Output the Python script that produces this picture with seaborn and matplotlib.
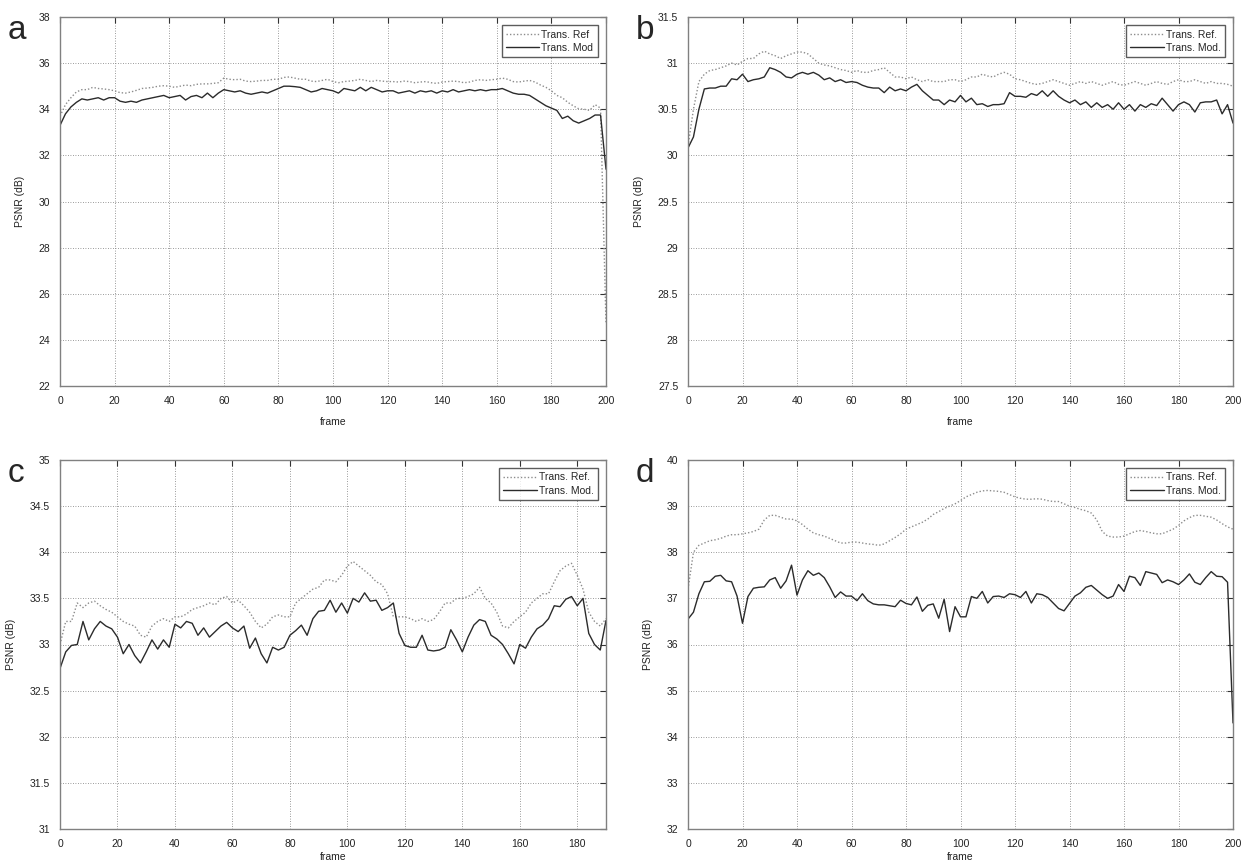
import numpy as np
import pandas as pd
import matplotlib.pyplot as plt
import seaborn as sns

# frame index for each panel (every 2nd frame)
frames_200 = list(range(0, 201, 2))
frames_190 = list(range(0, 191, 2))

# panel a
ref_a = [33.7, 34.2, 34.5, 34.75, 34.85, 34.85, 34.95, 34.9, 34.88, 34.85,
         34.8, 34.72, 34.7, 34.75, 34.82, 34.9, 34.92, 34.95, 35.0, 35.02,
         35.0, 34.95, 35.0, 35.05, 35.02, 35.08, 35.1, 35.1, 35.12, 35.15,
         35.35, 35.3, 35.28, 35.3, 35.22, 35.2, 35.22, 35.25, 35.25, 35.3,
         35.3, 35.38, 35.4, 35.35, 35.3, 35.3, 35.22, 35.2, 35.25, 35.3,
         35.2, 35.15, 35.2, 35.22, 35.25, 35.3, 35.25, 35.2, 35.25, 35.22,
         35.2, 35.2, 35.18, 35.22, 35.2, 35.15, 35.18, 35.2, 35.15, 35.12,
         35.18, 35.2, 35.22, 35.2, 35.15, 35.18, 35.25, 35.28, 35.25, 35.28,
         35.3, 35.35, 35.3, 35.2, 35.18, 35.22, 35.25, 35.18, 35.05, 34.95,
         34.8, 34.6, 34.5, 34.3, 34.15, 34.02, 34.0, 33.95, 34.2, 34.05,
         24.7]
mod_a = [33.3, 33.8, 34.1, 34.3, 34.45, 34.4, 34.45, 34.5, 34.4, 34.5,
         34.5, 34.35, 34.3, 34.35, 34.3, 34.4, 34.45, 34.5, 34.55, 34.6,
         34.5, 34.55, 34.6, 34.4, 34.55, 34.6, 34.5, 34.7, 34.5, 34.7,
         34.85, 34.8, 34.75, 34.8, 34.7, 34.65, 34.7, 34.75, 34.7, 34.8,
         34.9, 35.0, 35.0, 34.98, 34.95, 34.85, 34.75, 34.8, 34.9, 34.85,
         34.8, 34.7, 34.9, 34.85, 34.8, 34.95, 34.8, 34.95, 34.85, 34.75,
         34.8, 34.8, 34.7, 34.75, 34.8, 34.7, 34.8, 34.75, 34.8, 34.7,
         34.8, 34.75, 34.85, 34.75, 34.8, 34.85, 34.8, 34.85, 34.8, 34.85,
         34.85, 34.9, 34.8, 34.7, 34.65, 34.65, 34.6, 34.45, 34.3, 34.15,
         34.05, 33.95, 33.6, 33.7, 33.5, 33.4, 33.5, 33.6, 33.75, 33.75,
         31.4]

# panel b
ref_b = [30.1, 30.5, 30.8, 30.88, 30.92, 30.93, 30.95, 30.97, 31.0, 30.98,
         31.02, 31.05, 31.05, 31.1, 31.13, 31.1, 31.08, 31.05, 31.08, 31.1,
         31.12, 31.12, 31.1, 31.05, 31.0, 30.98, 30.97, 30.95, 30.93, 30.92,
         30.9, 30.92, 30.9, 30.9, 30.92, 30.93, 30.95, 30.9, 30.85, 30.85,
         30.83, 30.85, 30.82, 30.8, 30.82, 30.8, 30.8, 30.8, 30.82, 30.82,
         30.8, 30.82, 30.85, 30.85, 30.88, 30.86, 30.85, 30.88, 30.9, 30.88,
         30.83, 30.82, 30.8, 30.78, 30.77, 30.78, 30.8, 30.82, 30.8, 30.78,
         30.76, 30.78, 30.8, 30.78, 30.8, 30.78, 30.76, 30.78, 30.8, 30.77,
         30.76, 30.78, 30.8, 30.78, 30.76, 30.78, 30.8, 30.78, 30.77, 30.8,
         30.82, 30.8, 30.8, 30.82, 30.8, 30.78, 30.8, 30.78, 30.78, 30.77,
         30.75]
mod_b = [30.08, 30.2, 30.5, 30.72, 30.73, 30.73, 30.75, 30.75, 30.83, 30.82,
         30.88, 30.8, 30.82, 30.83, 30.85, 30.95, 30.93, 30.9, 30.85, 30.84,
         30.88, 30.9, 30.88, 30.9, 30.87, 30.82, 30.84, 30.8, 30.82, 30.79,
         30.8, 30.79, 30.76, 30.74, 30.73, 30.73, 30.68, 30.74, 30.7, 30.72,
         30.7, 30.74, 30.77, 30.7, 30.65, 30.6, 30.6, 30.55, 30.6, 30.58,
         30.65, 30.58, 30.62, 30.55, 30.56, 30.53, 30.55, 30.55, 30.56, 30.68,
         30.64, 30.64, 30.63, 30.67, 30.65, 30.7, 30.64, 30.7, 30.64, 30.6,
         30.57, 30.6, 30.55, 30.58, 30.52, 30.57, 30.52, 30.55, 30.5, 30.57,
         30.5, 30.55, 30.48, 30.55, 30.52, 30.56, 30.54, 30.62, 30.55, 30.48,
         30.55, 30.58, 30.55, 30.47, 30.57, 30.58, 30.58, 30.6, 30.45, 30.55,
         30.35]

# panel c (only 190 frames)
ref_c = [33.0, 33.25, 33.25, 33.45, 33.4, 33.45, 33.47, 33.42, 33.38, 33.35,
         33.3, 33.25, 33.22, 33.2, 33.1, 33.08, 33.2, 33.25, 33.28, 33.25,
         33.3, 33.3, 33.33, 33.38, 33.4, 33.42, 33.45, 33.43, 33.5, 33.52,
         33.45, 33.48, 33.42, 33.35, 33.25, 33.18, 33.22, 33.3, 33.32, 33.3,
         33.3, 33.45, 33.5, 33.55, 33.6, 33.62, 33.7, 33.7, 33.68, 33.75,
         33.85, 33.9, 33.85, 33.8, 33.75, 33.68, 33.65, 33.55, 33.3, 33.3,
         33.3, 33.28, 33.25, 33.28, 33.25, 33.27, 33.35, 33.45, 33.45, 33.5,
         33.5, 33.52, 33.55, 33.62, 33.5, 33.45, 33.35, 33.2, 33.18, 33.25,
         33.3, 33.35, 33.45, 33.5, 33.55, 33.55, 33.68, 33.8, 33.85, 33.88,
         33.75, 33.6, 33.35, 33.25, 33.2, 33.28]
mod_c = [32.74, 32.92, 32.99, 33.0, 33.25, 33.05, 33.17, 33.25, 33.2, 33.17,
         33.08, 32.9, 33.0, 32.88, 32.8, 32.92, 33.05, 32.95, 33.05, 32.97,
         33.22, 33.18, 33.25, 33.23, 33.1, 33.18, 33.08, 33.14, 33.2, 33.24,
         33.18, 33.14, 33.2, 32.96, 33.07, 32.9, 32.8, 32.97, 32.94, 32.97,
         33.1, 33.15, 33.21, 33.1, 33.28, 33.36, 33.37, 33.48, 33.35, 33.45,
         33.34, 33.5, 33.46, 33.56, 33.47, 33.48, 33.37, 33.4, 33.45, 33.12,
         32.99, 32.97, 32.97, 33.1, 32.94, 32.93, 32.94, 32.97, 33.16, 33.05,
         32.92, 33.08, 33.21, 33.27, 33.25, 33.1, 33.06, 33.0, 32.9, 32.79,
         33.0, 32.96, 33.08, 33.17, 33.21, 33.28, 33.42, 33.41, 33.49, 33.52,
         33.42, 33.5, 33.12, 33.0, 32.94, 33.26]

# panel d
ref_d = [37.2, 38.0, 38.15, 38.2, 38.25, 38.27, 38.3, 38.35, 38.38, 38.38,
         38.4, 38.42, 38.45, 38.5, 38.7, 38.8, 38.8, 38.76, 38.72, 38.72,
         38.68, 38.6, 38.5, 38.42, 38.38, 38.35, 38.3, 38.25, 38.2, 38.2,
         38.22, 38.22, 38.2, 38.18, 38.17, 38.15, 38.18, 38.25, 38.32, 38.4,
         38.5, 38.55, 38.6, 38.65, 38.72, 38.82, 38.88, 38.95, 39.0, 39.05,
         39.12, 39.2, 39.25, 39.3, 39.33, 39.34, 39.33, 39.32, 39.3, 39.25,
         39.2, 39.17, 39.15, 39.15, 39.16, 39.15, 39.12, 39.1, 39.1, 39.05,
         39.0, 38.97, 38.93, 38.9, 38.85, 38.7, 38.45, 38.35, 38.33, 38.33,
         38.35, 38.4, 38.45, 38.47, 38.45, 38.42, 38.4, 38.4, 38.45, 38.5,
         38.58, 38.68, 38.75, 38.8, 38.8, 38.78, 38.76, 38.7, 38.62, 38.55,
         38.5]
mod_d = [36.55, 36.7, 37.1, 37.36, 37.37, 37.48, 37.5, 37.38, 37.36, 37.05,
         36.46, 37.04, 37.22, 37.24, 37.25, 37.4, 37.45, 37.22, 37.38, 37.72,
         37.07, 37.4, 37.6, 37.5, 37.55, 37.45, 37.25, 37.02, 37.14, 37.05,
         37.05, 36.95, 37.1, 36.95, 36.88, 36.86, 36.86, 36.84, 36.82, 36.96,
         36.89, 36.86, 37.03, 36.72, 36.85, 36.88, 36.57, 36.98, 36.28, 36.82,
         36.6, 36.6, 37.04, 37.0, 37.15, 36.9, 37.04, 37.05, 37.02, 37.1,
         37.08, 37.02, 37.15, 36.9, 37.1, 37.08, 37.02, 36.9, 36.78, 36.73,
         36.89, 37.05, 37.12, 37.24, 37.28, 37.18, 37.08, 37.0, 37.05, 37.3,
         37.15, 37.48, 37.45, 37.28, 37.58, 37.55, 37.52, 37.34, 37.4, 37.36,
         37.3, 37.4, 37.53, 37.35, 37.3, 37.45, 37.58, 37.48, 37.47, 37.35,
         34.3]

panels = [
    ("a", frames_200, ref_a, mod_a, (22, 38), 2, 200, ("Trans. Ref", "Trans. Mod")),
    ("b", frames_200, ref_b, mod_b, (27.5, 31.5), 0.5, 200, ("Trans. Ref.", "Trans. Mod.")),
    ("c", frames_190, ref_c, mod_c, (31, 35), 0.5, 190, ("Trans. Ref.", "Trans. Mod.")),
    ("d", frames_200, ref_d, mod_d, (32, 40), 1, 200, ("Trans. Ref.", "Trans. Mod.")),
]

# axes rectangles in figure fractions (left, bottom, width, height)
W, H = 1251, 865
rects = [
    (60 / W, 1 - 386 / H, 546 / W, 369 / H),
    (688 / W, 1 - 386 / H, 545 / W, 369 / H),
    (60 / W, 1 - 829 / H, 546 / W, 369 / H),
    (688 / W, 1 - 829 / H, 545 / W, 369 / H),
]
# the bottom row has less room for the x label
xlabel_pads = [8, 8, 2, 2]

sns.set_style("white")
plt.rcParams["font.family"] = ["Liberation Sans Narrow", "Liberation Sans", "DejaVu Sans"]

fig = plt.figure(figsize=(12.51, 8.65), dpi=100)

for (letter, frames, ref, mod, ylim, ystep, xmax, labels), rect, xpad in zip(panels, rects, xlabel_pads):
    ax = fig.add_axes(rect)
    df = pd.DataFrame({"frame": frames, "ref": ref, "mod": mod})
    sns.lineplot(data=df, x="frame", y="ref", ax=ax, color="#8c8c8c",
                 linestyle=(0, (1, 1.5)), linewidth=1.0, label=labels[0])
    sns.lineplot(data=df, x="frame", y="mod", ax=ax, color="#2b2b2b",
                 linewidth=1.0, label=labels[1])

    ax.set_xlim(0, xmax)
    ax.set_ylim(*ylim)
    yt = np.arange(ylim[0], ylim[1] + ystep / 2, ystep)
    ax.set_xticks(np.arange(0, xmax + 1, 20))
    ax.set_yticks(yt)
    ax.set_yticklabels([f"{v:g}" for v in yt])
    ax.grid(True, linestyle=(0, (1, 2)), color="#7a7a7a", linewidth=0.6)
    ax.tick_params(direction="in", length=4, width=0.8, top=True, right=True,
                   labelsize=7.5, color="#333333", labelcolor="#222222", pad=7)
    for sp in ax.spines.values():
        sp.set_color("#808080")
        sp.set_linewidth(1.0)

    ax.set_xlabel("frame", fontsize=7.5, color="#222222", labelpad=xpad)
    ax.set_ylabel("PSNR (dB)", fontsize=7.5, color="#222222", labelpad=10)

    leg = ax.legend(loc="upper right", fontsize=7.5, frameon=True, fancybox=False,
                    handlelength=3.2, handletextpad=0.2, borderpad=0.4,
                    labelspacing=0.3, borderaxespad=0.8)
    leg.get_frame().set_edgecolor("#333333")
    leg.get_frame().set_linewidth(1.0)

    left, bottom, width, height = rect
    fig.text(left - 52 / W, bottom + height + 2 / H, letter, fontsize=24,
             ha="left", va="top", family="Liberation Sans")

fig.savefig("out.png", dpi=100)
